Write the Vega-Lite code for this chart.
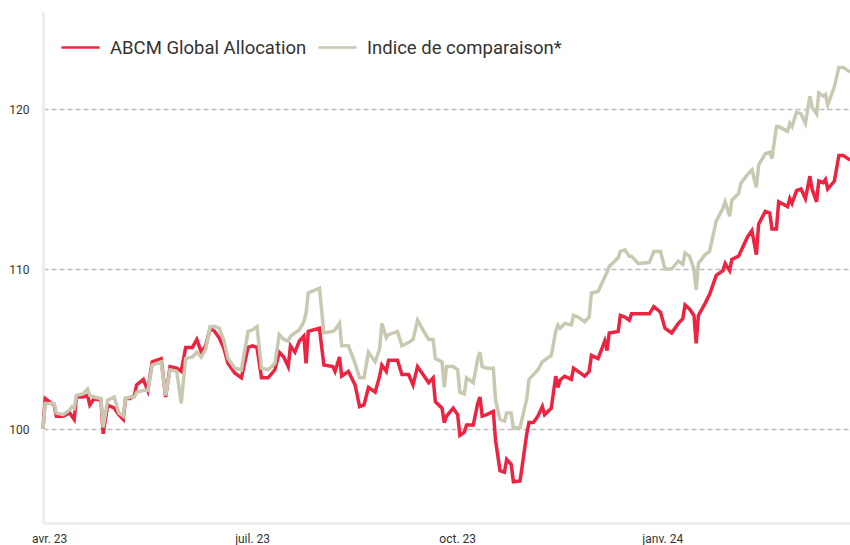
{
  "$schema": "https://vega.github.io/schema/vega-lite/v6.json",
  "autosize": {"type": "none"},
  "width": 807,
  "height": 511,
  "padding": {"left": 43, "top": 12, "right": 0, "bottom": 22},
  "background": "#ffffff",
  "config": {
    "font": "Roboto",
    "view": {"stroke": null},
    "axis": {"labelFont": "Roboto", "labelColor": "#333333", "labelFontSize": 12, "ticks": false, "domainColor": "#eeeeee", "domainWidth": 3, "title": null}
  },
  "data": {
    "values": [
      {"date": "2023-03-31", "ABCM": 100.0, "Indice": 100.0},
      {"date": "2023-04-01", "ABCM": 101.9, "Indice": 101.6},
      {"date": "2023-04-03", "ABCM": 101.7, "Indice": 101.6},
      {"date": "2023-04-05", "ABCM": 101.5, "Indice": 101.6},
      {"date": "2023-04-06", "ABCM": 100.8, "Indice": 101.0},
      {"date": "2023-04-09", "ABCM": 100.8, "Indice": 100.9},
      {"date": "2023-04-12", "ABCM": 101.0, "Indice": 101.2},
      {"date": "2023-04-13", "ABCM": 100.8, "Indice": 101.4},
      {"date": "2023-04-14", "ABCM": 100.6, "Indice": 101.3},
      {"date": "2023-04-15", "ABCM": 102.0, "Indice": 102.1},
      {"date": "2023-04-18", "ABCM": 102.0, "Indice": 102.2},
      {"date": "2023-04-20", "ABCM": 102.1, "Indice": 102.5},
      {"date": "2023-04-21", "ABCM": 101.5, "Indice": 102.1},
      {"date": "2023-04-23", "ABCM": 101.9, "Indice": 102.0},
      {"date": "2023-04-26", "ABCM": 101.8, "Indice": 101.9},
      {"date": "2023-04-27", "ABCM": 99.7, "Indice": 100.1},
      {"date": "2023-04-29", "ABCM": 101.5, "Indice": 101.8},
      {"date": "2023-05-02", "ABCM": 101.3, "Indice": 102.0},
      {"date": "2023-05-04", "ABCM": 100.9, "Indice": 101.0},
      {"date": "2023-05-06", "ABCM": 100.6, "Indice": 100.8},
      {"date": "2023-05-07", "ABCM": 101.9, "Indice": 101.9},
      {"date": "2023-05-09", "ABCM": 101.9, "Indice": 102.0},
      {"date": "2023-05-11", "ABCM": 102.1, "Indice": 102.0},
      {"date": "2023-05-12", "ABCM": 102.75, "Indice": 102.3},
      {"date": "2023-05-15", "ABCM": 103.1, "Indice": 102.4},
      {"date": "2023-05-17", "ABCM": 102.4, "Indice": 102.4},
      {"date": "2023-05-19", "ABCM": 104.2, "Indice": 104.0},
      {"date": "2023-05-23", "ABCM": 104.4, "Indice": 104.2},
      {"date": "2023-05-25", "ABCM": 102.0, "Indice": 102.1},
      {"date": "2023-05-27", "ABCM": 103.9, "Indice": 103.7},
      {"date": "2023-05-30", "ABCM": 103.8, "Indice": 103.6},
      {"date": "2023-06-01", "ABCM": 103.6, "Indice": 101.6},
      {"date": "2023-06-03", "ABCM": 105.1, "Indice": 104.4},
      {"date": "2023-06-06", "ABCM": 105.1, "Indice": 104.5},
      {"date": "2023-06-08", "ABCM": 105.6, "Indice": 104.8},
      {"date": "2023-06-10", "ABCM": 104.8, "Indice": 104.5},
      {"date": "2023-06-12", "ABCM": 105.2, "Indice": 105.0},
      {"date": "2023-06-14", "ABCM": 106.3, "Indice": 106.4},
      {"date": "2023-06-16", "ABCM": 106.1, "Indice": 106.4},
      {"date": "2023-06-18", "ABCM": 105.7, "Indice": 106.3},
      {"date": "2023-06-20", "ABCM": 105.1, "Indice": 105.6},
      {"date": "2023-06-22", "ABCM": 104.1, "Indice": 104.4},
      {"date": "2023-06-25", "ABCM": 103.5, "Indice": 103.8},
      {"date": "2023-06-28", "ABCM": 103.2, "Indice": 103.7},
      {"date": "2023-07-01", "ABCM": 105.1, "Indice": 106.1},
      {"date": "2023-07-03", "ABCM": 105.2, "Indice": 106.2},
      {"date": "2023-07-05", "ABCM": 105.1, "Indice": 106.4},
      {"date": "2023-07-07", "ABCM": 103.2, "Indice": 103.8},
      {"date": "2023-07-10", "ABCM": 103.2, "Indice": 103.7},
      {"date": "2023-07-13", "ABCM": 103.7, "Indice": 104.1},
      {"date": "2023-07-15", "ABCM": 104.8, "Indice": 105.9},
      {"date": "2023-07-17", "ABCM": 104.5, "Indice": 105.6},
      {"date": "2023-07-19", "ABCM": 103.9, "Indice": 105.5},
      {"date": "2023-07-20", "ABCM": 105.2, "Indice": 105.8},
      {"date": "2023-07-22", "ABCM": 104.8, "Indice": 106.0},
      {"date": "2023-07-24", "ABCM": 105.5, "Indice": 106.2},
      {"date": "2023-07-26", "ABCM": 105.8, "Indice": 106.7},
      {"date": "2023-07-27", "ABCM": 104.1, "Indice": 107.25},
      {"date": "2023-07-28", "ABCM": 106.1, "Indice": 108.5},
      {"date": "2023-08-02", "ABCM": 106.3, "Indice": 108.8},
      {"date": "2023-08-04", "ABCM": 104.0, "Indice": 106.0},
      {"date": "2023-08-08", "ABCM": 103.9, "Indice": 106.1},
      {"date": "2023-08-09", "ABCM": 103.6, "Indice": 106.2},
      {"date": "2023-08-11", "ABCM": 104.5, "Indice": 106.6},
      {"date": "2023-08-12", "ABCM": 103.3, "Indice": 105.2},
      {"date": "2023-08-15", "ABCM": 103.6, "Indice": 105.2},
      {"date": "2023-08-18", "ABCM": 102.75, "Indice": 104.1},
      {"date": "2023-08-20", "ABCM": 101.4, "Indice": 103.2},
      {"date": "2023-08-22", "ABCM": 101.5, "Indice": 103.2},
      {"date": "2023-08-24", "ABCM": 102.6, "Indice": 104.8},
      {"date": "2023-08-27", "ABCM": 102.3, "Indice": 104.2},
      {"date": "2023-08-29", "ABCM": 103.3, "Indice": 105.0},
      {"date": "2023-08-30", "ABCM": 104.0, "Indice": 106.6},
      {"date": "2023-09-01", "ABCM": 103.6, "Indice": 105.7},
      {"date": "2023-09-02", "ABCM": 104.3, "Indice": 105.9},
      {"date": "2023-09-06", "ABCM": 104.3, "Indice": 106.1},
      {"date": "2023-09-08", "ABCM": 103.4, "Indice": 105.2},
      {"date": "2023-09-11", "ABCM": 103.4, "Indice": 105.4},
      {"date": "2023-09-13", "ABCM": 102.75, "Indice": 105.6},
      {"date": "2023-09-15", "ABCM": 103.9, "Indice": 106.8},
      {"date": "2023-09-17", "ABCM": 103.5, "Indice": 106.3},
      {"date": "2023-09-20", "ABCM": 102.9, "Indice": 105.6},
      {"date": "2023-09-22", "ABCM": 103.2, "Indice": 105.6},
      {"date": "2023-09-23", "ABCM": 101.7, "Indice": 104.4},
      {"date": "2023-09-26", "ABCM": 101.3, "Indice": 104.2},
      {"date": "2023-09-27", "ABCM": 100.4, "Indice": 102.6},
      {"date": "2023-09-28", "ABCM": 100.8, "Indice": 103.9},
      {"date": "2023-10-01", "ABCM": 101.3, "Indice": 103.9},
      {"date": "2023-10-03", "ABCM": 100.9, "Indice": 103.7},
      {"date": "2023-10-04", "ABCM": 99.6, "Indice": 102.3},
      {"date": "2023-10-06", "ABCM": 99.8, "Indice": 102.2},
      {"date": "2023-10-07", "ABCM": 100.25, "Indice": 103.2},
      {"date": "2023-10-10", "ABCM": 100.25, "Indice": 102.9},
      {"date": "2023-10-12", "ABCM": 101.6, "Indice": 104.4},
      {"date": "2023-10-13", "ABCM": 102.0, "Indice": 104.8},
      {"date": "2023-10-14", "ABCM": 100.8, "Indice": 103.9},
      {"date": "2023-10-16", "ABCM": 100.9, "Indice": 103.8},
      {"date": "2023-10-19", "ABCM": 101.1, "Indice": 103.8},
      {"date": "2023-10-20", "ABCM": 99.3, "Indice": 101.8},
      {"date": "2023-10-22", "ABCM": 97.4, "Indice": 100.6},
      {"date": "2023-10-24", "ABCM": 97.3, "Indice": 100.5},
      {"date": "2023-10-25", "ABCM": 98.1, "Indice": 101.0},
      {"date": "2023-10-27", "ABCM": 97.8, "Indice": 101.0},
      {"date": "2023-10-28", "ABCM": 96.7, "Indice": 100.05},
      {"date": "2023-10-31", "ABCM": 96.75, "Indice": 100.1},
      {"date": "2023-11-03", "ABCM": 99.7, "Indice": 101.9},
      {"date": "2023-11-04", "ABCM": 100.4, "Indice": 103.1},
      {"date": "2023-11-06", "ABCM": 100.4, "Indice": 103.4},
      {"date": "2023-11-08", "ABCM": 100.8, "Indice": 103.7},
      {"date": "2023-11-10", "ABCM": 101.4, "Indice": 104.2},
      {"date": "2023-11-11", "ABCM": 100.9, "Indice": 104.3},
      {"date": "2023-11-14", "ABCM": 101.3, "Indice": 104.6},
      {"date": "2023-11-16", "ABCM": 103.3, "Indice": 106.1},
      {"date": "2023-11-17", "ABCM": 102.6, "Indice": 106.5},
      {"date": "2023-11-18", "ABCM": 103.06, "Indice": 106.3},
      {"date": "2023-11-20", "ABCM": 103.3, "Indice": 106.6},
      {"date": "2023-11-23", "ABCM": 103.1, "Indice": 106.5},
      {"date": "2023-11-24", "ABCM": 103.8, "Indice": 107.1},
      {"date": "2023-11-26", "ABCM": 103.6, "Indice": 107.0},
      {"date": "2023-11-29", "ABCM": 103.3, "Indice": 106.7},
      {"date": "2023-12-01", "ABCM": 103.6, "Indice": 107.0},
      {"date": "2023-12-02", "ABCM": 104.6, "Indice": 108.5},
      {"date": "2023-12-05", "ABCM": 104.4, "Indice": 108.6},
      {"date": "2023-12-08", "ABCM": 105.5, "Indice": 109.5},
      {"date": "2023-12-09", "ABCM": 104.9, "Indice": 109.8},
      {"date": "2023-12-10", "ABCM": 106.0, "Indice": 110.15},
      {"date": "2023-12-14", "ABCM": 106.1, "Indice": 110.7},
      {"date": "2023-12-15", "ABCM": 107.1, "Indice": 111.1},
      {"date": "2023-12-17", "ABCM": 107.0, "Indice": 111.2},
      {"date": "2023-12-19", "ABCM": 106.8, "Indice": 110.8},
      {"date": "2023-12-20", "ABCM": 107.2, "Indice": 110.8},
      {"date": "2023-12-23", "ABCM": 107.2, "Indice": 110.35},
      {"date": "2023-12-28", "ABCM": 107.2, "Indice": 110.4},
      {"date": "2023-12-30", "ABCM": 107.65, "Indice": 111.1},
      {"date": "2024-01-02", "ABCM": 107.3, "Indice": 111.1},
      {"date": "2024-01-04", "ABCM": 106.3, "Indice": 110.0},
      {"date": "2024-01-07", "ABCM": 106.0, "Indice": 110.0},
      {"date": "2024-01-10", "ABCM": 106.6, "Indice": 110.5},
      {"date": "2024-01-12", "ABCM": 106.9, "Indice": 110.3},
      {"date": "2024-01-13", "ABCM": 107.75, "Indice": 111.0},
      {"date": "2024-01-15", "ABCM": 107.5, "Indice": 110.8},
      {"date": "2024-01-17", "ABCM": 107.1, "Indice": 110.0},
      {"date": "2024-01-18", "ABCM": 105.35, "Indice": 108.7},
      {"date": "2024-01-19", "ABCM": 107.1, "Indice": 110.35},
      {"date": "2024-01-22", "ABCM": 107.85, "Indice": 110.9},
      {"date": "2024-01-24", "ABCM": 108.4, "Indice": 111.1},
      {"date": "2024-01-27", "ABCM": 109.6, "Indice": 113.0},
      {"date": "2024-01-30", "ABCM": 109.9, "Indice": 113.8},
      {"date": "2024-01-31", "ABCM": 110.35, "Indice": 114.2},
      {"date": "2024-02-02", "ABCM": 109.9, "Indice": 113.3},
      {"date": "2024-02-03", "ABCM": 110.6, "Indice": 114.3},
      {"date": "2024-02-06", "ABCM": 110.8, "Indice": 114.7},
      {"date": "2024-02-07", "ABCM": 111.1, "Indice": 115.35},
      {"date": "2024-02-10", "ABCM": 112.0, "Indice": 115.9},
      {"date": "2024-02-12", "ABCM": 112.4, "Indice": 116.2},
      {"date": "2024-02-14", "ABCM": 110.9, "Indice": 115.1},
      {"date": "2024-02-15", "ABCM": 112.8, "Indice": 116.5},
      {"date": "2024-02-18", "ABCM": 113.6, "Indice": 117.2},
      {"date": "2024-02-20", "ABCM": 113.5, "Indice": 117.3},
      {"date": "2024-02-21", "ABCM": 112.5, "Indice": 116.9},
      {"date": "2024-02-23", "ABCM": 112.5, "Indice": 118.9},
      {"date": "2024-02-24", "ABCM": 114.2, "Indice": 118.9},
      {"date": "2024-02-28", "ABCM": 113.9, "Indice": 118.6},
      {"date": "2024-02-29", "ABCM": 114.4, "Indice": 119.1},
      {"date": "2024-03-01", "ABCM": 114.1, "Indice": 118.9},
      {"date": "2024-03-03", "ABCM": 114.9, "Indice": 119.8},
      {"date": "2024-03-05", "ABCM": 115.0, "Indice": 119.7},
      {"date": "2024-03-07", "ABCM": 114.4, "Indice": 119.1},
      {"date": "2024-03-09", "ABCM": 115.8, "Indice": 120.8},
      {"date": "2024-03-10", "ABCM": 115.0, "Indice": 120.1},
      {"date": "2024-03-12", "ABCM": 114.2, "Indice": 119.7},
      {"date": "2024-03-13", "ABCM": 115.5, "Indice": 121.0},
      {"date": "2024-03-15", "ABCM": 115.4, "Indice": 120.8},
      {"date": "2024-03-16", "ABCM": 115.6, "Indice": 120.9},
      {"date": "2024-03-17", "ABCM": 115.0, "Indice": 120.25},
      {"date": "2024-03-20", "ABCM": 115.5, "Indice": 121.4},
      {"date": "2024-03-22", "ABCM": 117.1, "Indice": 122.6},
      {"date": "2024-03-24", "ABCM": 117.1, "Indice": 122.6},
      {"date": "2024-03-27", "ABCM": 116.8, "Indice": 122.3}
    ]
  },
  "transform": [
    {"fold": ["ABCM", "Indice"], "as": ["serie", "valeur"]}
  ],
  "mark": {"type": "line", "strokeWidth": 3.5, "strokeJoin": "miter", "interpolate": "linear"},
  "encoding": {
    "x": {
      "field": "date",
      "type": "temporal",
      "scale": {"domain": [{"year": 2023, "month": 3, "date": 31}, {"year": 2024, "month": 3, "date": 27}], "nice": false},
      "axis": {
        "values": [{"year": 2023, "month": 4, "date": 1}, {"year": 2023, "month": 7, "date": 1}, {"year": 2023, "month": 10, "date": 1}, {"year": 2024, "month": 1, "date": 1}],
        "labelExpr": "['janv.','févr.','mars','avr.','mai','juin','juil.','août','sept.','oct.','nov.','déc.'][month(datum.value)] + ' ' + timeFormat(datum.value, '%y')",
        "labelOffset": 4,
        "labelPadding": 10,
        "grid": false
      }
    },
    "y": {
      "field": "valeur",
      "type": "quantitative",
      "scale": {"domain": [94.125, 126.0625], "nice": false, "zero": false},
      "axis": {
        "values": [100, 110, 120],
        "labelPadding": 14,
        "grid": true,
        "gridColor": "#bdbdbd",
        "gridDash": [5, 3],
        "gridWidth": 1.5
      }
    },
    "color": {
      "field": "serie",
      "type": "nominal",
      "scale": {"domain": ["ABCM", "Indice"], "range": ["#ec2441", "#c9c9b2"]},
      "legend": {
        "title": null,
        "orient": "none",
        "legendX": 17,
        "legendY": 15,
        "direction": "horizontal",
        "symbolType": "stroke",
        "symbolSize": 1444,
        "symbolStrokeWidth": 2.5,
        "labelFontSize": 18.5,
        "labelColor": "#333333",
        "labelFont": "Roboto",
        "labelOffset": 9,
        "columnPadding": 6,
        "labelLimit": 400,
        "labelExpr": "datum.label == 'ABCM' ? 'ABCM Global Allocation' : 'Indice de comparaison*'"
      }
    }
  }
}
